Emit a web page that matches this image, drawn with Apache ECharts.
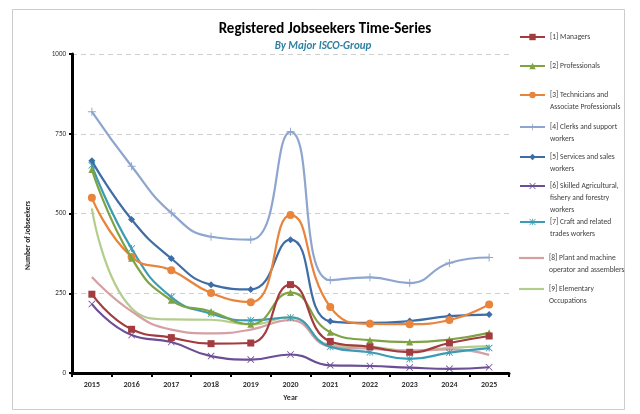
<!DOCTYPE html>
<html><head><meta charset="utf-8">
<script src="https://cdn.jsdelivr.net/npm/echarts@6/dist/echarts.min.js"></script>
<style>html,body{margin:0;padding:0;background:#fff}#c{width:640px;height:414px}</style>
</head><body><div id="c"></div>
<script>
const years = ['2015','2016','2017','2018','2019','2020','2021','2022','2023','2024','2025'];
const yTicks = [0, 250, 500, 750, 1000];
const managers      = [247,137,111, 92, 94,277, 99, 82, 65, 94,116];
const professionals = [638,360,228,193,153,252,128,103, 97,105,126];
const technicians   = [549,364,322,251,222,495,207,154,153,166,215];
const clerks        = [819,648,502,427,418,756,291,300,282,345,362];
const services      = [665,481,359,277,262,418,162,157,163,178,183];
const skilled       = [216,119, 97, 53, 42, 58, 24, 22, 17, 13, 18];
const craft         = [651,390,238,186,165,174, 82, 65, 44, 64, 78];
const plant         = [301,193,136,124,136,166, 83, 76, 70, 74, 57];
const elementary    = [516,203,168,167,152,175, 88, 83, 70, 79, 84];
const seriesNames = [
  '[1] Managers',
  '[2] Professionals',
  '[3] Technicians and\nAssociate Professionals',
  '[4] Clerks and support\nworkers',
  '[5] Services and sales\nworkers',
  '[6] Skilled Agricultural,\nfishery and forestry\nworkers',
  '[7] Craft and related\ntrades workers',
  '[8] Plant and machine\noperator and assemblers',
  '[9] Elementary\nOccupations'
];
const seriesData = [managers, professionals, technicians, clerks, services, skilled, craft, plant, elementary];

const FONT = "Carlito, 'Liberation Sans Narrow', 'DejaVu Sans Condensed', 'Open Sans', sans-serif";
const colors = ['#A33B3F','#7FA343','#E8843C','#8EA6CF','#3E6DA6','#6B4E95','#3B9CB3','#D59FA3','#B4CD8E'];
const PLUS = 'path://M4.4 0h1.2v10h-1.2z M0 4.4h10v1.2h-10z';
const XMARK = 'path://M0.8 0L5 4.2L9.2 0L10 0.8L5.8 5L10 9.2L9.2 10L5 5.8L0.8 10L0 9.2L4.2 5L0 0.8z';
const STAR = 'path://M0.8 0L5 4.2L9.2 0L10 0.8L5.8 5L10 9.2L9.2 10L5 5.8L0.8 10L0 9.2L4.2 5L0 0.8z M4.4 0h1.2v10h-1.2z';
const LINEICON = 'path://M0 0h25v2.2h-25z';
const symbols = ['rect','triangle','circle',PLUS,'diamond',XMARK,STAR,'none','none'];
const symSizes = [7,7,8,8,7,7,7,0,0];
const iconY = [37,66,95,127,157,186,222,258,289];
const LH = 12;

const series = seriesNames.map((n,i)=>({
  name:n, type:'line', data:seriesData[i], smooth:0.5,
  symbol:symbols[i], symbolSize:symSizes[i], showSymbol: symbols[i]!=='none',
  lineStyle:{color:colors[i], width:2.2},
  itemStyle:{color:colors[i]},
  z: 10-i
}));

const legends = seriesNames.map((n,i)=>{
  const lines = n.split('\n').length;
  const item = symbols[i]==='none' ? {name:n, icon:LINEICON, itemStyle:{color:colors[i]}} : n;
  return {
    data:[item], orient:'vertical', left:519, top: iconY[i] - (2*lines-1)*LH/2,
    padding:0, itemWidth:25, itemHeight:8, itemGap:0,
    formatter: function(name){
      const k = name.split('\n').length;
      let pre = '';
      for (let j=0;j<k-1;j++) pre += ' \n';
      return pre + name;
    },
    textStyle:{fontFamily:FONT, fontSize:7.5, color:'#404040', lineHeight:LH},
    selectedMode:false
  };
});

const chart = echarts.init(document.getElementById('c'), null, {renderer:'canvas'});
chart.setOption({
  animation:false,
  backgroundColor:'#fff',
  title:[
    {text:'Registered Jobseekers Time-Series', left:320, top:17, textAlign:'center',
     textStyle:{fontFamily:FONT, fontSize:15, fontWeight:'bold', color:'#000'}},
    {text:'By Major ISCO-Group', left:318, top:36, textAlign:'center',
     textStyle:{fontFamily:FONT, fontSize:11, fontWeight:'bold', fontStyle:'italic', color:'#2E80A3'}}
  ],
  legend: legends,
  grid:{left:72, top:54, right:131, bottom:41, containLabel:false},
  xAxis:{
    type:'category', data:years, boundaryGap:true,
    name:'Year', nameLocation:'middle', nameGap:21,
    nameTextStyle:{fontFamily:FONT, fontSize:8, fontWeight:'bold', color:'#333'},
    axisLine:{lineStyle:{color:'#000', width:3}},
    axisTick:{show:true, length:4, lineStyle:{color:'#000', width:2}},
    axisLabel:{fontFamily:FONT, fontSize:8, fontWeight:'bold', color:'#333', margin:8}
  },
  yAxis:{
    type:'value', min:yTicks[0], max:yTicks[yTicks.length-1], interval:250,
    name:'Number of Jobseekers', nameLocation:'middle', nameGap:40, nameRotate:90,
    nameTextStyle:{fontFamily:FONT, fontSize:7.5, fontWeight:'bold', color:'#222', padding:[0,44,0,0]},
    axisLine:{show:true, lineStyle:{color:'#000', width:3}},
    axisTick:{show:true, length:3, lineStyle:{color:'#000', width:2}},
    axisLabel:{fontFamily:FONT, fontSize:7, color:'#333', margin:6, formatter: v => String(v)},
    splitLine:{show:true, lineStyle:{color:'#cfcfcf', type:[5,4], width:1}}
  },
  graphic:[{type:'rect', shape:{x:12.5, y:9.5, width:612, height:400},
    style:{fill:'none', stroke:'#cccccc', lineWidth:1}, silent:true, z:-1}],
  series: series
});
</script></body></html>
